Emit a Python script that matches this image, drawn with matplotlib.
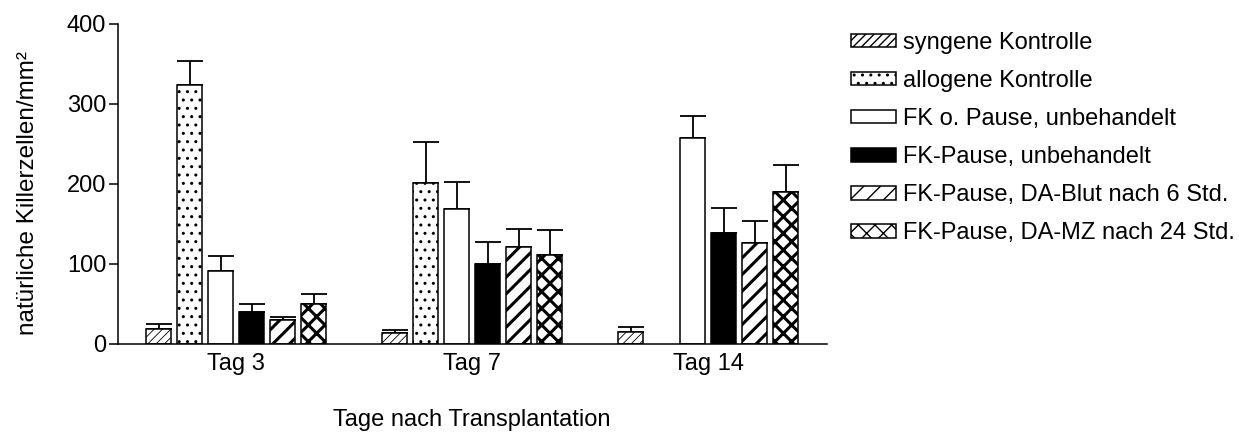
import numpy as np
import matplotlib
matplotlib.use("Agg")
import matplotlib.pyplot as plt

plt.rcParams['font.family'] = ['Liberation Sans', 'DejaVu Sans']

days = ["Tag 3", "Tag 7", "Tag 14"]
series = ["syngene Kontrolle", "allogene Kontrolle", "FK o. Pause, unbehandelt",
          "FK-Pause, unbehandelt", "FK-Pause, DA-Blut nach 6 Std.",
          "FK-Pause, DA-MZ nach 24 Std."]
means = [
    [18, 13, 14],
    [324, 201, np.nan],
    [91, 169, 257],
    [40, 99, 138],
    [29, 121, 126],
    [50, 111, 190],
]
errs = [
    [6, 4, 7],
    [30, 51, np.nan],
    [18, 33, 28],
    [9, 28, 32],
    [4, 22, 27],
    [12, 31, 34],
]
# look of each series: face, hatch, hatch line width
styles = [
    ("white", "////", 0.6),
    ("white", "..", 1.0),
    ("white", "", 1.0),
    ("black", "", 1.0),
    ("white", "//", 2.2),
    ("white", "xx", 2.2),
]

fig = plt.figure(figsize=(12.39, 4.36), dpi=100)
ax = fig.add_axes([118/1239, 92.5/436, 709/1239, 319.5/436])

x = np.arange(len(days))
pitch = 31/236
width = 25/236
handles = []
for i, name in enumerate(series):
    face, hatch, hlw = styles[i]
    pos = x + (i - 2.5)*pitch
    with plt.rc_context({'hatch.linewidth': hlw}):
        bars = ax.bar(pos, means[i], width, color=face, edgecolor='black',
                      linewidth=1.1, hatch=hatch, label=name, zorder=2)
    for b in bars:
        if hasattr(b, 'set_hatch_linewidth'):
            b.set_hatch_linewidth(hlw)
    ax.errorbar(pos, means[i], yerr=[np.zeros(3), errs[i]], fmt='none',
                ecolor='black', elinewidth=1.3, capsize=9.5, capthick=1.3, zorder=1)
    handles.append(bars)

ax.set_xlim(-0.5, 2.504)
ax.set_ylim(0, 400)
ax.set_yticks([0, 100, 200, 300, 400])
ax.set_xticks(x)
ax.set_xticklabels(days)
ax.spines['top'].set_visible(False)
ax.spines['right'].set_visible(False)
ax.spines['left'].set_linewidth(1.1)
ax.spines['bottom'].set_linewidth(1.1)
ax.tick_params(axis='y', length=6.5, width=1.1, pad=2, labelsize=17)
ax.tick_params(axis='x', length=0, pad=7, labelsize=17)

fig.text(472/1239, 16/436, "Tage nach Transplantation", ha='center', va='center', fontsize=17)
fig.text(28/1239, 1 - 193/436, "natürliche Killerzellen/mm²", ha='center', va='center',
         rotation=90, fontsize=17.5)

fig.legend(handles, series, loc='upper left', bbox_to_anchor=(851/1239, 1 - 32/436),
           frameon=False, fontsize=17, handlelength=1.9, handleheight=0.5,
           handletextpad=0.3, labelspacing=0.68, borderpad=0, borderaxespad=0)

fig.savefig("out.png", dpi=100)
